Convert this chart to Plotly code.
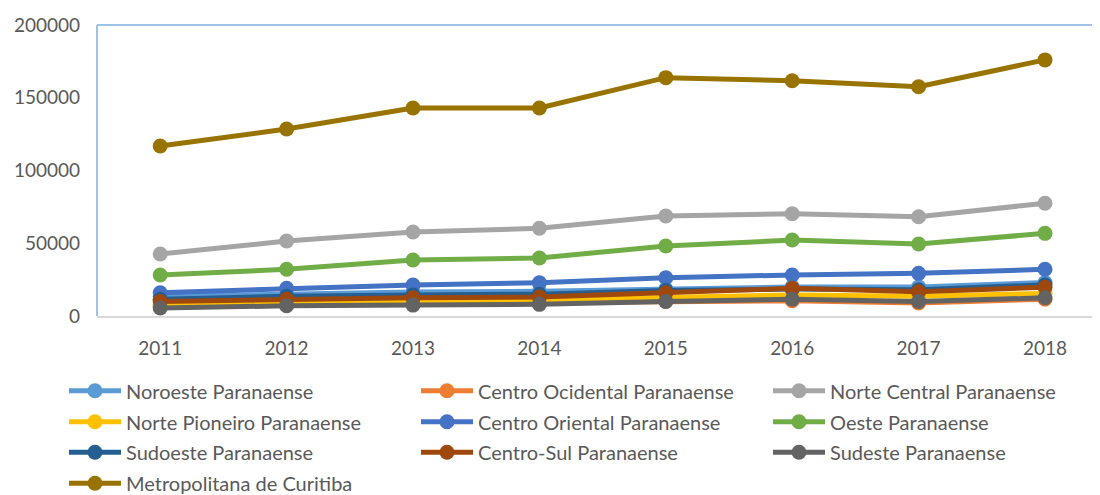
import plotly.graph_objects as go

years = ["2011", "2012", "2013", "2014", "2015", "2016", "2017", "2018"]

noroeste = [13500, 15000, 16500, 17000, 18500, 20000, 20000, 23000]
centro_ocidental = [6500, 8000, 8500, 9000, 10000, 10500, 9000, 11500]
norte_central = [42600, 51500, 57700, 60300, 68700, 70300, 68200, 77500]
norte_pioneiro = [8000, 9500, 10500, 11000, 13000, 14500, 13500, 15500]
centro_oriental = [16000, 19000, 21300, 22900, 26300, 28200, 29300, 32100]
oeste = [28200, 32100, 38500, 39900, 48100, 52200, 49500, 56800]
sudoeste = [11500, 13500, 14500, 15000, 17500, 18500, 18000, 21500]
centro_sul = [10000, 11500, 12500, 13000, 16000, 19000, 16700, 19700]
sudeste = [5500, 7000, 7500, 8000, 10000, 11500, 10000, 12500]
metropolitana = [116800, 128500, 143000, 143000, 163800, 161700, 157600, 176000]

y_tickvals = [0, 50000, 100000, 150000, 200000]
y_ticktext = ["0", "50000", "100000", "150000", "200000"]

series = [
    ("Noroeste Paranaense", noroeste, "#5B9BD5", "legend"),
    ("Centro Ocidental Paranaense", centro_ocidental, "#ED7D31", "legend"),
    ("Norte Central Paranaense", norte_central, "#A5A5A5", "legend"),
    ("Norte Pioneiro Paranaense", norte_pioneiro, "#FFC000", "legend2"),
    ("Centro Oriental Paranaense", centro_oriental, "#4472C4", "legend2"),
    ("Oeste Paranaense", oeste, "#70AD47", "legend2"),
    ("Sudoeste Paranaense", sudoeste, "#255E91", "legend3"),
    ("Centro-Sul Paranaense", centro_sul, "#9E480E", "legend3"),
    ("Sudeste Paranaense", sudeste, "#636363", "legend3"),
    ("Metropolitana de Curitiba", metropolitana, "#997300", "legend4"),
]

FONT = "Lato"
GRAY = "#595959"

# page is offset by 8px body margin; plot area in page: x 97..1108, y 25..316
PL, PT, PB = 89, 17, 308
PW = 1100 - PL

fig = go.Figure()
for name, vals, color, leg in series:
    fig.add_trace(go.Scatter(
        x=years, y=vals, name=name, mode="lines+markers",
        line=dict(color=color, width=5),
        marker=dict(color=color, size=15),
        legend=leg, cliponaxis=False,
    ))

def pix_y(yp):
    return (316 - yp) / 291.0

legend_common = dict(
    orientation="h", xanchor="left", yanchor="middle",
    x=(64 - 97) / PW,
    font=dict(family=FONT, size=20, color=GRAY),
    entrywidth=285, entrywidthmode="pixels",
    itemwidth=52, bgcolor="rgba(0,0,0,0)", traceorder="normal",
)

fig.update_layout(
    width=1100, height=495, autosize=False,
    margin=dict(l=PL, r=0, t=PT, b=495 - PB, pad=0, autoexpand=False),
    paper_bgcolor="white", plot_bgcolor="white",
    font=dict(family=FONT, color=GRAY),
    showlegend=True,
    legend=dict(legend_common, y=pix_y(390.7)),
    legend2=dict(legend_common, y=pix_y(421.7)),
    legend3=dict(legend_common, y=pix_y(452.3)),
    legend4=dict(legend_common, y=pix_y(483.3)),
    xaxis=dict(
        type="category", range=[-0.5, -0.5 + PW / 126.4],
        showline=True, linecolor="#D9D9D9", linewidth=1.5,
        showgrid=False, zeroline=False, ticks="",
        tickfont=dict(family=FONT, size=19, color=GRAY),
        ticklabelstandoff=14,
    ),
    yaxis=dict(
        range=[0, 200000], tickvals=y_tickvals, ticktext=y_ticktext,
        showline=False, showgrid=False, zeroline=False, ticks="",
        tickfont=dict(family=FONT, size=19, color=GRAY),
        ticklabelstandoff=16,
    ),
    shapes=[
        dict(type="line", xref="paper", yref="paper", x0=0, x1=0, y0=0, y1=1,
             line=dict(color="#9DC3E6", width=2), layer="below"),
        dict(type="line", xref="paper", yref="paper", x0=0, x1=1, y0=1, y1=1,
             line=dict(color="#9DC3E6", width=2), layer="below"),
    ],
)

fig.write_html("out.html")
